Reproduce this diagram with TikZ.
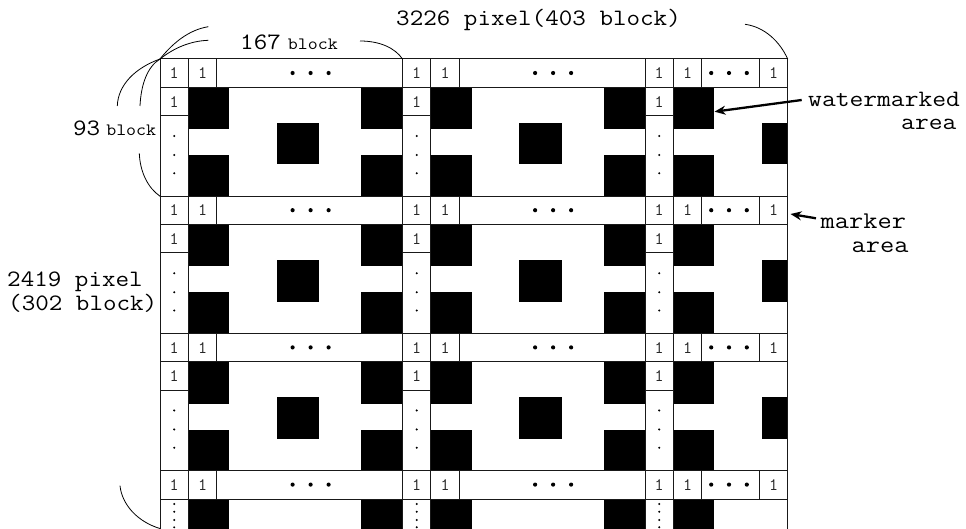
\documentclass[tikz,border=0pt]{standalone}
\usepackage{fontspec}
\usepackage{graphicx}
\usetikzlibrary{arrows.meta}
\newcommand{\mytt}[1]{\scalebox{1.12}[1]{#1}}
\newcommand{\mywide}[1]{\scalebox{1.15}[1]{#1}}
\begin{document}
\begin{tikzpicture}[x=1pt,y=-1pt,
  gridline/.style={line width=1pt,black!90},
  arcline/.style={line width=0.8pt,black},
  onetxt/.style={font=\ttfamily\fontsize{17.5}{19}\selectfont,inner sep=0pt,text=black!85},
  bigtxt/.style={font=\ttfamily\fontsize{23.5}{26}\selectfont,inner sep=0pt,anchor=base west},
  sidetxt/.style={font=\ttfamily\fontsize{24}{26}\selectfont,inner sep=0pt,anchor=base west},
  ptr/.style={line width=2.3pt,-{Stealth[length=11pt,width=9pt]}}
]
\useasboundingbox (0,0) rectangle (966,529);

% black squares
\begin{scope}
\clip (150,50) rectangle (787.7,529);
\foreach \X in {160,402.5,645} {
  \foreach \Y in {59,196.2,333.4,470.6} {
    \fill (\X+28.4,\Y+28.4) rectangle +(41,41.7);
    \fill (\X+28.4,\Y+96.2) rectangle +(41,41);
    \fill (\X+201,\Y+28.4) rectangle +(41.5,41.7);
    \fill (\X+201,\Y+96.2) rectangle +(41.5,41);
    \fill (\X+116.8,\Y+63.9) rectangle +(42.3,41.4);
  }
}
\end{scope}

% grid lines
\foreach \Y in {59,196.2,333.4,470.6} {
  \draw[gridline] (160,\Y) -- (787.7,\Y);
  \draw[gridline] (160,\Y+28.4) -- (787.7,\Y+28.4);
  \draw[gridline] (759.3,\Y) -- +(0,28.4);
}
\foreach \X in {160,402.5,645} {
  \draw[gridline] (\X,59) -- (\X,529);
  \draw[gridline] (\X+28.4,59) -- (\X+28.4,529);
  \foreach \Y in {59,196.2,333.4,470.6} \draw[gridline] (\X+56.8,\Y) -- +(0,28.4);
  \foreach \Y in {59,196.2,333.4} \draw[gridline] (\X,\Y+56.8) -- +(28.4,0);
}
\draw[gridline] (787.7,59) -- (787.7,529);

% marker texts and dots
\foreach \X [count=\i] in {160,402.5,645} {
  \foreach \Y [count=\j] in {59,196.2,333.4,470.6} {
    \node[onetxt] (a\i\j) at (\X+14.2,\Y+14.2) {1};
    \node[onetxt] (b\i\j) at (\X+42.6,\Y+14.2) {1};
  }
  \foreach \Y [count=\j] in {59,196.2,333.4} {
    \node[onetxt] (c\i\j) at (\X+14.2,\Y+42.6) {1};
    \foreach \d in {77,96,114.3} \fill (\X+14.2,\Y+\d) circle (1.15pt);
  }
  \foreach \d in {504,511.7,520,527.3} \fill (\X+14.2,\d) circle (1.1pt);
}
\foreach \Y [count=\j] in {59,196.2,333.4,470.6} {
  \foreach \X in {160,402.5} \foreach \k in {-18,0,18} \fill (\X+150.6+\k,\Y+14) circle (2.1pt);
  \foreach \k in {-17.8,0,17.8} \fill (729+\k,\Y+14) circle (2.1pt);
  \node[onetxt] (e\j) at (773.5,\Y+14.2) {1};
}

% labels
\node[bigtxt] (wlab) at (396,26) {\mytt{3226 pixel(403 block)}};
\node[bigtxt] (blab) at (240,50) {\mytt{167}\hspace{7pt}{\fontsize{17.3}{20}\selectfont\mytt{block}}};
\node[bigtxt] (hlab) at (73,136) {\mytt{93}\hspace{6pt}{\fontsize{17.3}{20}\selectfont\mytt{block}}};
\node[bigtxt] (hpa) at (7,286.7) {\mytt{2419 pixel}};
\node[bigtxt] (hpb) at (8,310.7) {\mytt{(302 block)}};
\node[bigtxt] (wma) at (808,106.7) {\scalebox{1.14}[1]{watermarked}};
\node[bigtxt] (wmb) at (901,130) {\scalebox{1.14}[1]{area}};
\node[sidetxt] (mka) at (820.5,229) {\mywide{marker}};
\node[sidetxt] (mkb) at (851.5,253) {\mywide{area}};

% dimension arcs
\coordinate (tl) at (160,59);
\coordinate (tr1) at (402.5,59);
\coordinate (tr) at (787.7,59);
\coordinate (bl1) at (160,196.2);
\coordinate (bl) at (160,528.5);
\coordinate (wl) at (208.3,26.7);
\coordinate (bkl) at (208.3,40.3);
\coordinate (bkr) at (360,41);
\coordinate (wr) at (745,24.3);
\coordinate (ht) at (140,106);
\coordinate (pt) at (117.3,106);
\coordinate (hb) at (139.3,153.3);
\coordinate (pb) at (120,485.7);
\draw[arcline] (tl) .. controls (172,44) and (188,30) .. (wl);
\draw[arcline] (tl) .. controls (174,48) and (190,41) .. (bkl);
\draw[arcline] (bkr) .. controls (380,41) and (395,48) .. (tr1);
\draw[arcline] (wr) .. controls (765,27) and (780,42) .. (tr);
\draw[arcline] (tl) .. controls (147,67) and (141,85) .. (ht);
\draw[arcline] (tl) .. controls (135,68) and (118,85) .. (pt);
\draw[arcline] (hb) .. controls (140,172) and (148,188) .. (bl1);
\draw[arcline] (pb) .. controls (122,505) and (138,522) .. (bl);

% pointers
\coordinate (wmtail) at (801.7,100);
\coordinate (wmhead) at (714.5,111.7);
\coordinate (mktail) at (816,218.3);
\coordinate (mkhead) at (790.5,214);
\draw[ptr] (wmtail) -- (wmhead);
\draw[ptr] (mktail) -- (mkhead);
\end{tikzpicture}
\end{document}
